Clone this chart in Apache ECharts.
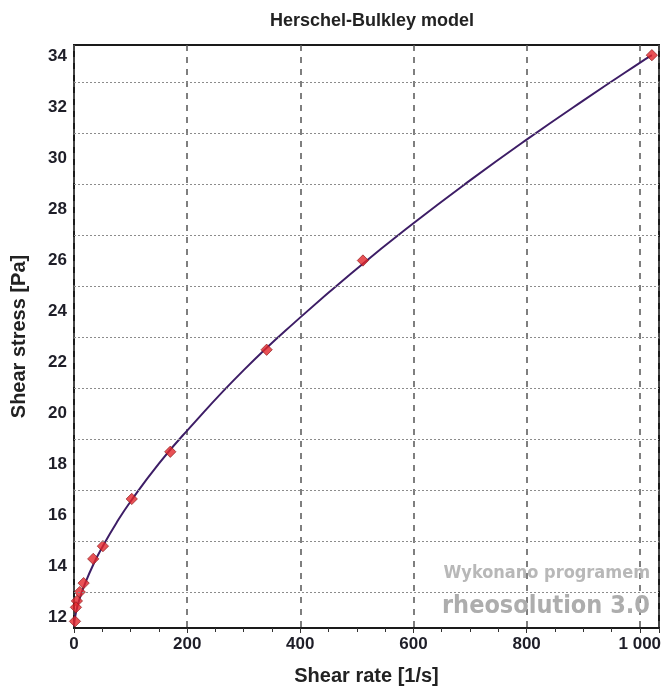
<!DOCTYPE html>
<html>
<head>
<meta charset="utf-8">
<script src="https://cdn.jsdelivr.net/npm/echarts@6/dist/echarts.min.js"></script>
<style>
html,body{margin:0;padding:0;background:#fff;}
#chart{width:665px;height:692px;}
</style>
</head>
<body>
<div id="chart"></div>
<script>
// Measured points (shear rate [1/s], shear stress [Pa])
const shearRate   = [1021.4, 510.7, 340.5, 170.2, 102.1, 51.1, 34.0, 17.0, 10.2, 5.1, 3.4, 1.7];
const shearStress = [34.05, 26.0, 22.5, 18.5, 16.65, 14.8, 14.3, 13.35, 13.0, 12.65, 12.4, 11.85];

// Fitted Herschel-Bulkley curve
const curveRate   = [0, 1, 2, 5, 10, 20, 35, 50, 75, 100, 150, 200, 300, 400, 500, 600, 700, 800, 900, 1000, 1021.4];
const curveStress = [11.65, 11.89, 12.03, 12.34, 12.74, 13.36, 14.12, 14.76, 15.71, 16.55, 18.04, 19.33, 21.70, 23.77, 25.68, 27.46, 29.14, 30.74, 32.27, 33.75, 34.05];

// Axis ranges and grid values
const xMin = 0, xMax = 1034;
const yMin = 11.59, yMax = 34.45;
const yGridLines = [13, 15, 17, 19, 21, 23, 25, 27, 29, 31, 33];

const chart = echarts.init(document.getElementById('chart'), null, {renderer: 'canvas'});
const FONT = 'Liberation Sans, Arial, sans-serif';
const TXT = '#1e1e28';

const option = {
  backgroundColor: '#ffffff',
  animation: false,
  title: {
    text: 'Herschel-Bulkley model',
    left: 367, top: 7, textAlign: 'center',
    textStyle: {fontFamily: FONT, fontWeight: 'bold', fontSize: 18, color: '#222'}
  },
  grid: {left: 74, right: 6, top: 45, bottom: 64, show: true, borderColor: '#1a1a1a', borderWidth: 2, containLabel: false},
  xAxis: {
    type: 'value', min: xMin, max: xMax, interval: 200,
    name: 'Shear rate [1/s]', nameLocation: 'middle', nameGap: 38,
    nameTextStyle: {fontFamily: FONT, fontWeight: 'bold', fontSize: 20, color: '#222'},
    axisLine: {show: false},
    axisTick: {show: true, length: 5, lineStyle: {color: '#333', width: 1}},
    minorTick: {show: true, splitNumber: 4, length: 4, lineStyle: {color: '#333'}},
    axisLabel: {
      showMaxLabel: false, margin: 8,
      fontFamily: FONT, fontWeight: 'bold', fontSize: 17, color: TXT,
      formatter: v => v === 1000 ? '1 000' : String(v)
    },
    splitLine: {show: true, lineStyle: {color: '#555', width: 1.5, type: [6, 6]}}
  },
  yAxis: {
    type: 'value', min: yMin, max: yMax, splitNumber: 11, minInterval: 2, maxInterval: 2,
    name: 'Shear stress [Pa]', nameLocation: 'middle', nameGap: 45,
    nameTextStyle: {fontFamily: FONT, fontWeight: 'bold', fontSize: 20, color: '#222'},
    axisLine: {show: false},
    axisTick: {show: false},
    axisLabel: {
      showMinLabel: false, showMaxLabel: false, margin: 7,
      fontFamily: FONT, fontWeight: 'bold', fontSize: 17, color: TXT
    },
    splitLine: {show: false}
  },
  graphic: [
    {type: 'text', right: 15, top: 564, style: {text: 'Wykonano programem', font: 'bold 18px "DejaVu Sans Condensed", "Open Sans", sans-serif', fill: '#b8b8b8'}, z: 1},
    {type: 'text', right: 15, top: 594, style: {text: 'rheosolution 3.0', font: 'bold 25px "DejaVu Sans Condensed", "Open Sans", sans-serif', fill: '#adadad'}, z: 1}
  ],
  series: [
    {
      type: 'line', silent: true, symbol: 'none', data: [], z: 1,
      markLine: {
        silent: true, symbol: 'none', label: {show: false},
        lineStyle: {color: '#8c8c8c', width: 1, type: [2, 2]},
        data: yGridLines.map(v => ({yAxis: v}))
      }
    },
    {
      type: 'line', smooth: true, symbol: 'none', z: 3,
      lineStyle: {color: '#3d1d66', width: 2},
      data: curveRate.map((x, i) => [x, curveStress[i]])
    },
    {
      type: 'scatter', z: 4,
      symbol: 'rect', symbolRotate: 45, symbolSize: 8,
      itemStyle: {color: '#e3262a', borderColor: '#8a1a1a', borderWidth: 0.8},
      data: shearRate.map((x, i) => [x, shearStress[i]])
    }
  ]
};
chart.setOption(option);
</script>
</body>
</html>
